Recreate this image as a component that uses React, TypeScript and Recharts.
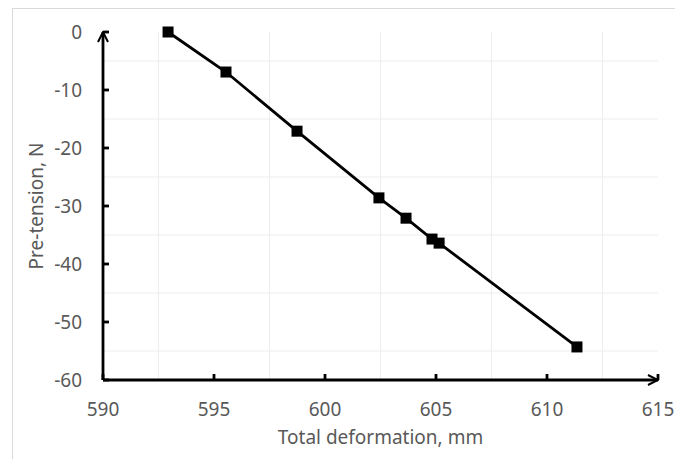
import React from 'react';
import { LineChart, Line, XAxis, YAxis, ReferenceLine } from 'recharts';

// measured points: total deformation (mm) vs pre-tension (N)
const deformation = [592.93, 595.54, 598.74, 602.43, 603.65, 604.82, 605.14, 611.35];
const pretension = [0, -6.9, -17.1, -28.6, -32.1, -35.7, -36.4, -54.3];

const xTicks = [590, 595, 600, 605, 610, 615];
const yTicks = [-60, -50, -40, -30, -20, -10, 0];
// light minor grid sits between the major ticks
const xGrid = [592.5, 597.5, 602.5, 607.5, 612.5];
const yGrid = [-5, -15, -25, -35, -45, -55];

const data = deformation.map((x, i) => ({ x, y: pretension[i] }));

const FONT = '"Noto Sans", sans-serif';
const TEXT = '#595959';
const FS = 19;

const SquareDot = (props: any) => {
  const { cx, cy } = props;
  if (cx == null || cy == null) return null;
  return <rect x={cx - 5.5} y={cy - 5.5} width={11} height={11} fill="#000" />;
};

const XTick = (props: any) => {
  const { x, y, payload } = props;
  return (
    <g>
      <line x1={x} y1={y} x2={x} y2={y - 6} stroke="#000" strokeWidth={2.8} />
      <text x={x} y={y + 36} textAnchor="middle" fill={TEXT} fontSize={FS} fontFamily={FONT}>
        {payload.value}
      </text>
    </g>
  );
};

const YTick = (props: any) => {
  const { x, y, payload } = props;
  return (
    <g>
      <line x1={x} y1={y} x2={x + 6} y2={y} stroke="#000" strokeWidth={2.8} />
      <text x={x - 21} y={y + 7} textAnchor="end" fill={TEXT} fontSize={FS} fontFamily={FONT}>
        {payload.value}
      </text>
    </g>
  );
};

const XTitle = (props: any) => {
  const { viewBox } = props;
  return (
    <text
      x={viewBox.x + viewBox.width / 2}
      y={viewBox.y + 64}
      textAnchor="middle"
      fill={TEXT}
      fontSize={FS}
      fontFamily={FONT}
    >
      Total deformation, mm
    </text>
  );
};

const YTitle = (props: any) => {
  const { viewBox } = props;
  const cx = viewBox.x + 43;
  const cy = viewBox.y + viewBox.height / 2;
  return (
    <text
      x={cx}
      y={cy}
      transform={`rotate(-90, ${cx}, ${cy})`}
      textAnchor="middle"
      fill={TEXT}
      fontSize={FS}
      fontFamily={FONT}
    >
      Pre-tension, N
    </text>
  );
};

const axisLineStyle = { stroke: '#000', strokeWidth: 2.8 };

export default function App() {
  return (
    <div style={{ position: 'absolute', left: 0, top: 0, width: 675, height: 459, background: '#fff', overflow: 'hidden' }}>
      <div
        style={{
          position: 'absolute',
          left: 12,
          top: 8,
          width: 700,
          height: 470,
          borderTop: '1px solid #d9d9d9',
          borderLeft: '1px solid #d9d9d9',
        }}
      />
      <div style={{ position: 'absolute', left: 0, top: 0 }}>
        <LineChart width={675} height={459} data={data} margin={{ top: 32, right: 17, bottom: 0, left: 0 }}>
          <defs>
            <marker
              id="axisArrow"
              viewBox="0 0 12 12"
              refX="11"
              refY="6"
              markerWidth="12"
              markerHeight="12"
              markerUnits="userSpaceOnUse"
              orient="auto-start-reverse"
            >
              <path d="M1,1 L11,6 L1,11" fill="none" stroke="#000" strokeWidth={2} />
            </marker>
          </defs>
          {xGrid.map((v) => (
            <ReferenceLine key={`gx${v}`} x={v} stroke="#ededed" strokeWidth={1} />
          ))}
          {yGrid.map((v) => (
            <ReferenceLine key={`gy${v}`} y={v} stroke="#ededed" strokeWidth={1} />
          ))}
          <XAxis
            dataKey="x"
            type="number"
            domain={[590, 615]}
            ticks={xTicks}
            height={79}
            tickSize={0}
            tickMargin={0}
            tickLine={false}
            tick={<XTick />}
            axisLine={{ ...axisLineStyle, markerEnd: 'url(#axisArrow)' }}
            label={XTitle}
            interval={0}
          />
          <YAxis
            type="number"
            domain={[-60, 0]}
            ticks={yTicks}
            width={103}
            tickSize={0}
            tickMargin={0}
            tickLine={false}
            tick={<YTick />}
            axisLine={{ ...axisLineStyle, markerStart: 'url(#axisArrow)' }}
            label={YTitle}
            interval={0}
          />
          <Line
            dataKey="y"
            type="linear"
            stroke="#000"
            strokeWidth={2.8}
            dot={<SquareDot />}
            activeDot={false}
            isAnimationActive={false}
          />
        </LineChart>
      </div>
    </div>
  );
}
